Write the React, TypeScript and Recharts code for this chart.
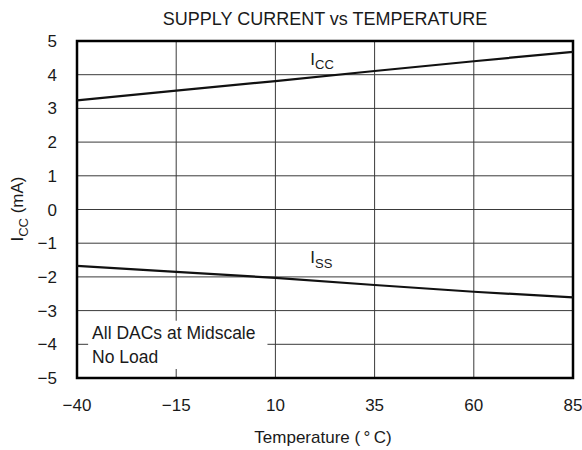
import { LineChart, Line, XAxis, YAxis, CartesianGrid, ReferenceArea, ReferenceDot, Label } from 'recharts'

const temps = [-40, -15, 10, 35, 60, 85]
const iccValues = [3.24, 3.53, 3.81, 4.11, 4.4, 4.68]
const issValues = [-1.67, -1.85, -2.03, -2.24, -2.44, -2.61]
const xTicks = [-40, -15, 10, 35, 60, 85]
const yTicks = [-5, -4, -3, -2, -1, 0, 1, 2, 3, 4, 5]

const data = temps.map((t, i) => ({ temp: t, icc: iccValues[i], iss: issValues[i] }))

const FONT = '"Liberation Sans", Arial, sans-serif'
const INK = '#1a1a1a'
const minus = (v: number) => String(v).replace('-', '\u2212')

function SeriesLabel({ viewBox, main, sub }: { viewBox?: { x: number; y: number }; main: string; sub: string }) {
  if (!viewBox) return null
  return (
    <text x={viewBox.x} y={viewBox.y} fontFamily={FONT} fontSize={17} fill={INK}>
      {main}
      <tspan fontSize={13} dy={4.5}>{sub}</tspan>
    </text>
  )
}

function NoteLabel({ viewBox }: { viewBox?: { x: number; y: number } }) {
  if (!viewBox) return null
  return (
    <text fontFamily={FONT} fontSize={17.5} fill={INK}>
      <tspan x={viewBox.x + 4} y={viewBox.y + 18}>All DACs at Midscale</tspan>
      <tspan x={viewBox.x + 4} y={viewBox.y + 42}>No Load</tspan>
    </text>
  )
}

function YTitle({ viewBox }: { viewBox?: { x: number; y: number; height: number } }) {
  if (!viewBox) return null
  const cx = 23
  const cy = 209
  return (
    <text x={cx} y={cy} transform={`rotate(-90 ${cx} ${cy})`} textAnchor="middle" fontFamily={FONT} fontSize={17} fill={INK}>
      I<tspan fontSize={13} dy={4.5}>CC</tspan>
      <tspan dy={-4.5}> (mA)</tspan>
    </text>
  )
}

function XTitle() {
  return (
    <text x={323} y={443} textAnchor="middle" fontFamily={FONT} fontSize={17} fill={INK}>
      {'Temperature (\u2009\u00B0\u2009C)'}
    </text>
  )
}

export default function App() {
  return (
    <div style={{ position: 'absolute', left: 0, top: 0, width: 582, height: 450, background: '#fff' }}>
      <div style={{ position: 'absolute', left: 125, top: 10, width: 400, textAlign: 'center', lineHeight: '18px', fontFamily: FONT, fontSize: 18, color: INK, whiteSpace: 'nowrap' }}>
        SUPPLY CURRENT vs TEMPERATURE
      </div>
      <LineChart width={582} height={450} data={data} margin={{ top: 41, right: 9, bottom: 42, left: 0 }}>
        <CartesianGrid stroke="#3a3a3a" strokeWidth={1} vertical horizontal />
        <XAxis
          dataKey="temp"
          type="number"
          domain={[-40, 85]}
          ticks={xTicks}
          tickFormatter={minus}
          axisLine={false}
          tickLine={false}
          tickSize={0}
          tickMargin={21}
          height={30}
          tick={{ fontSize: 17, fill: INK, fontFamily: FONT }}
        >
          <Label content={<XTitle />} />
        </XAxis>
        <YAxis
          type="number"
          domain={[-5, 5]}
          ticks={yTicks}
          tickFormatter={minus}
          axisLine={false}
          tickLine={false}
          tickSize={0}
          tickMargin={20}
          width={77}
          interval={0}
          tick={{ fontSize: 17, fill: INK, fontFamily: FONT }}
        >
          <Label content={<YTitle />} />
        </YAxis>
        <ReferenceArea x1={-37.2} x2={8} y1={-4.73} y2={-3.3} fill="#fff" fillOpacity={1} stroke="none">
          <Label content={<NoteLabel />} />
        </ReferenceArea>
        <Line dataKey="icc" type="linear" stroke="#111" strokeWidth={2.2} dot={false} isAnimationActive={false} />
        <Line dataKey="iss" type="linear" stroke="#111" strokeWidth={2.2} dot={false} isAnimationActive={false} />
        <ReferenceDot x={18.8} y={4.29} r={0} fill="none" stroke="none">
          <Label content={<SeriesLabel main="I" sub="CC" />} />
        </ReferenceDot>
        <ReferenceDot x={18.8} y={-1.6} r={0} fill="none" stroke="none">
          <Label content={<SeriesLabel main="I" sub="SS" />} />
        </ReferenceDot>
        <ReferenceArea x1={-40} x2={85} y1={-5} y2={5} fill="none" stroke="#000" strokeWidth={2.5} />
      </LineChart>
    </div>
  )
}
